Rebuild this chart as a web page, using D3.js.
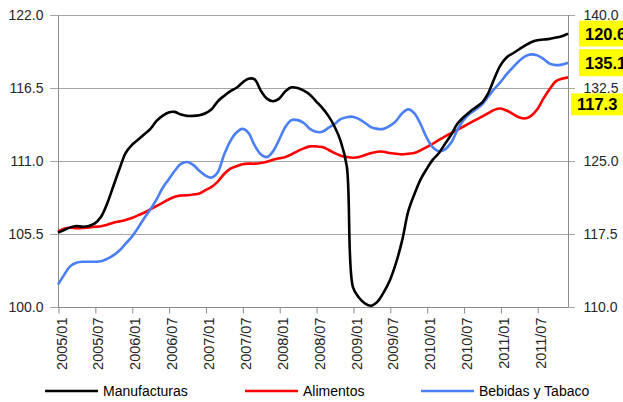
<!DOCTYPE html>
<html>
<head>
<meta charset="utf-8">
<script src="https://cdn.jsdelivr.net/npm/d3@7"></script>
<style>
  body { margin: 0; background: #fff; }
  svg { display: block; font-family: "Liberation Sans", Arial, sans-serif; }
  .grid line { stroke: #a6a6a6; stroke-width: 1; }
  .axis path, .axis line { stroke: #8c8c8c; }
  .axis text { fill: #262626; font-size: 14px; }
  .series { fill: none; stroke-width: 2.6; stroke-linejoin: round; }
  .legend text { font-size: 14px; fill: #000; }
  .lbl text { font-size: 16.5px; font-weight: bold; fill: #000; }
</style>
</head>
<body>
<div id="chart"></div>
<script>
// monthly index, 2005/01 .. 2011/12
let months = d3.timeMonths(new Date(2005, 0, 1), new Date(2012, 0, 1));
let fmtMonth = d3.timeFormat("%Y/%m");
let tickLabels = ["2005/01", "2005/07", "2006/01", "2006/07", "2007/01", "2007/07", "2008/01",
                  "2008/07", "2009/01", "2009/07", "2010/01", "2010/07", "2011/01", "2011/07"];

let leftTicks = [100.0, 105.5, 111.0, 116.5, 122.0];
let rightTicks = [110.0, 117.5, 125.0, 132.5, 140.0];

// left axis
let manufacturas = [
  105.6, 105.8, 106.0, 106.1, 106.05, 106.1, 106.3, 106.8, 107.8, 109.1,
  110.4, 111.6, 112.2, 112.6, 113.0, 113.4, 114.0, 114.4, 114.65, 114.7,
  114.5, 114.4, 114.4, 114.45, 114.6, 114.9, 115.5, 115.9, 116.25, 116.5,
  116.9, 117.2, 117.15, 116.3, 115.7, 115.5, 115.7, 116.25, 116.55, 116.5,
  116.3, 116.0, 115.5, 115.0, 114.4, 113.6, 112.5, 110.6, 101.5, 100.7,
  100.25, 100.1, 100.4, 101.1, 102.0, 103.3, 105.0, 107.2, 108.5, 109.6,
  110.4, 111.1, 111.6, 112.3, 113.0, 113.8, 114.3, 114.7, 115.05, 115.4,
  116.1, 117.2, 118.2, 118.8, 119.1, 119.4, 119.7, 119.95, 120.1, 120.15,
  120.2, 120.3, 120.4, 120.6
];
// left axis
let alimentos = [
  105.7, 105.9, 105.97, 105.93, 105.95, 106.0, 106.05, 106.08, 106.2, 106.35,
  106.45, 106.55, 106.7, 106.9, 107.1, 107.35, 107.6, 107.85, 108.1, 108.3,
  108.4, 108.42, 108.47, 108.55, 108.8, 109.05, 109.45, 110.0, 110.4, 110.6,
  110.75, 110.8, 110.8, 110.85, 110.95, 111.1, 111.2, 111.3, 111.5, 111.75,
  111.95, 112.1, 112.1, 112.05, 111.85, 111.6, 111.4, 111.3, 111.25, 111.3,
  111.45, 111.6, 111.7, 111.7, 111.6, 111.55, 111.5, 111.55, 111.6, 111.8,
  112.05, 112.3, 112.6, 112.85, 113.1, 113.35, 113.6, 113.85, 114.1, 114.35,
  114.6, 114.85, 114.95, 114.8, 114.55, 114.3, 114.2, 114.4, 114.9, 115.7,
  116.4, 117.0, 117.2, 117.3
];
// right axis
let bebidas = [
  112.3, 113.3, 114.2, 114.55, 114.65, 114.65, 114.65, 114.7, 114.95, 115.3,
  115.8, 116.5, 117.2, 118.1, 119.1, 120.0, 121.0, 122.2, 123.1, 124.0,
  124.7, 124.9, 124.6, 124.0, 123.5, 123.3, 123.85, 125.6, 127.0, 127.9,
  128.3, 127.9, 126.6, 125.7, 125.4, 126.0, 127.2, 128.5, 129.2, 129.2,
  128.9, 128.3, 128.0, 128.0, 128.4, 128.8, 129.3, 129.5, 129.55, 129.3,
  128.9, 128.45, 128.3, 128.3, 128.6, 129.1, 129.9, 130.3, 129.9, 128.8,
  127.4, 126.4, 126.0, 126.2, 126.9, 128.2, 129.2, 129.85, 130.3, 130.8,
  131.6, 132.4, 133.1, 133.9, 134.6, 135.25, 135.75, 135.95, 135.85, 135.5,
  135.0, 134.85, 134.9, 135.1
];

let width = 623, height = 402;
let margin = {top: 15, right: 55, bottom: 95, left: 58};

let svg = d3.select("#chart").append("svg")
  .attr("width", width)
  .attr("height", height);

let x = d3.scalePoint()
  .domain(months.map(fmtMonth))
  .range([margin.left, width - margin.right]);
let yL = d3.scaleLinear().domain([100, 122]).range([height - margin.bottom, margin.top]);
let yR = d3.scaleLinear().domain([110, 140]).range([height - margin.bottom, margin.top]);

////////// gridlines //////////
svg.append("g").attr("class", "grid")
  .selectAll("line")
  .data(leftTicks)
  .enter().append("line")
  .attr("x1", margin.left - 8)
  .attr("x2", width - margin.right + 7)
  .attr("y1", d => Math.round(yL(d)) + 0.5)
  .attr("y2", d => Math.round(yL(d)) + 0.5);

////////// axes //////////
let axL = svg.append("g").attr("class", "axis")
  .attr("transform", "translate(" + (margin.left + 0.5) + ",0.5)")
  .call(d3.axisLeft(yL).tickValues(leftTicks).tickFormat(d3.format(".1f")).tickSize(0).tickPadding(15));
axL.select(".domain").remove();
svg.append("line").attr("class", "axisline")
  .attr("x1", margin.left + 0.5).attr("x2", margin.left + 0.5)
  .attr("y1", margin.top).attr("y2", height - margin.bottom)
  .attr("stroke", "#8c8c8c");

let axR = svg.append("g").attr("class", "axis")
  .attr("transform", "translate(" + (width - margin.right + 0.5) + ",0.5)")
  .call(d3.axisRight(yR).tickValues(rightTicks).tickFormat(d3.format(".1f")).tickSize(0).tickPadding(15));
axR.select(".domain").remove();
svg.append("line")
  .attr("x1", width - margin.right + 0.5).attr("x2", width - margin.right + 0.5)
  .attr("y1", margin.top).attr("y2", height - margin.bottom)
  .attr("stroke", "#8c8c8c");

let axB = svg.append("g").attr("class", "axis")
  .attr("transform", "translate(0," + (height - margin.bottom + 0.5) + ")")
  .call(d3.axisBottom(x).tickValues(tickLabels).tickSize(6).tickSizeOuter(0));
axB.select(".domain")
  .attr("d", "M" + margin.left + ",0H" + (width - margin.right));
axB.selectAll(".tick line").attr("transform", "translate(0.5,0)");
axB.selectAll(".tick text")
  .attr("transform", "rotate(-90)")
  .attr("text-anchor", "end")
  .attr("x", -10)
  .attr("y", 3)
  .attr("dy", "0.35em")
  .style("font-size", "14.5px");

////////// series //////////
let series = [
  {name: "Manufacturas", values: manufacturas, y: yL, color: "#000000"},
  {name: "Alimentos", values: alimentos, y: yL, color: "#ff0000"},
  {name: "Bebidas y Tabaco", values: bebidas, y: yR, color: "#4a7ff5"}
];

let drawOrder = [1, 2, 0];
drawOrder.forEach(function (k) {
  let s = series[k];
  let line = d3.line()
    .x((d, i) => x(fmtMonth(months[i])))
    .y(d => s.y(d))
    .curve(d3.curveCatmullRom.alpha(0.5));
  svg.append("path")
    .attr("class", "series")
    .attr("stroke", s.color)
    .attr("d", line(s.values));
});

////////// end labels //////////
let labels = [
  {s: series[0], dx: 11, dy: 0, w: 50, h: 26},
  {s: series[2], dx: 11, dy: 0, w: 50, h: 27},
  {s: series[1], dx: 3, dy: 27, w: 58, h: 22}
];
let lbl = svg.append("g").attr("class", "lbl");
labels.forEach(function (l) {
  let v = l.s.values[l.s.values.length - 1];
  let cx = width - margin.right + l.dx;
  let cy = l.s.y(v) + l.dy;
  lbl.append("rect")
    .attr("x", cx).attr("y", cy - l.h / 2)
    .attr("width", l.w).attr("height", l.h)
    .attr("fill", "#ffff00");
  lbl.append("text")
    .attr("x", cx + 6).attr("y", cy)
    .attr("dy", "0.36em")
    .text(d3.format(".1f")(v));
});

////////// legend //////////
let legendPos = [45, 245, 421];
let legend = svg.append("g").attr("class", "legend")
  .attr("transform", "translate(0,391)");
series.forEach(function (s, i) {
  legend.append("line")
    .attr("x1", legendPos[i]).attr("x2", legendPos[i] + 53)
    .attr("stroke", s.color).attr("stroke-width", 2.6);
  legend.append("text")
    .attr("x", legendPos[i] + 58)
    .attr("dy", "0.35em")
    .text(s.name);
});
</script>
</body>
</html>
